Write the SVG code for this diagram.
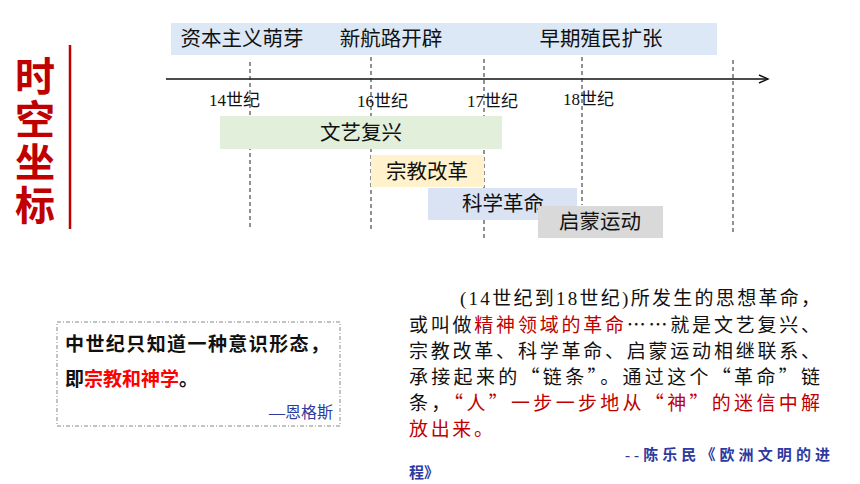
<svg xmlns="http://www.w3.org/2000/svg" width="860" height="484" viewBox="0 0 860 484">
<defs>
<style>
.song{font-family:"Liberation Serif","Noto Sans CJK SC",serif;fill:#111}
.cjk{font-family:"Noto Sans CJK SC",sans-serif;fill:#111}
.band{font-size:20.5px}
.cent{font-size:17px}
.dash{stroke:#222;stroke-width:1;stroke-dasharray:4,3;fill:none}
.red{fill:#c00000}
.bred{fill:#ff0000}
.blue{fill:#2e3a9e}
</style>
<marker id="arr" markerWidth="12" markerHeight="10" refX="10" refY="5" orient="auto" markerUnits="userSpaceOnUse">
<path d="M1,1 L10,5 L1,9" fill="none" stroke="#111" stroke-width="1.4"/>
</marker>
</defs>
<rect width="860" height="484" fill="#fff"/>

<g id="title">
<text x="35" y="56" writing-mode="tb" font-family="Noto Sans CJK SC,sans-serif" font-size="40" font-weight="bold" letter-spacing="3" fill="#c00000">时空坐标</text>
<line x1="70" y1="45" x2="70" y2="229" stroke="#c00000" stroke-width="2.5"/>
</g>

<g id="band-capitalism">
<rect x="171" y="23" width="159" height="32" fill="#dce8f5"/>
<text class="song band" x="242" y="46" text-anchor="middle">资本主义萌芽</text>
</g>
<g id="band-route">
<rect x="330" y="23" width="155" height="32" fill="#dce8f5"/>
<text class="song band" x="391" y="46" text-anchor="middle">新航路开辟</text>
</g>
<g id="band-colony">
<rect x="485" y="23" width="232" height="32" fill="#dce8f5"/>
<text class="song band" x="601" y="46" text-anchor="middle">早期殖民扩张</text>
</g>

<g id="connectors">
<line x1="166" y1="79" x2="768" y2="79" stroke="#111" stroke-width="1.3" marker-end="url(#arr)"/>
<line class="dash" x1="250" y1="62" x2="250" y2="229"/>
<line class="dash" x1="371" y1="57" x2="371" y2="229"/>
<line class="dash" x1="484" y1="59" x2="484" y2="240"/>
<line class="dash" x1="582" y1="57" x2="582" y2="205"/>
<line class="dash" x1="733" y1="60" x2="733" y2="233"/>
</g>

<g id="labels-centuries">
<text class="song cent" x="209" y="106">14世纪</text>
<text class="song cent" x="357" y="107">16世纪</text>
<text class="song cent" x="467" y="107">17世纪</text>
<text class="song cent" x="563" y="105">18世纪</text>
</g>

<g id="renaissance">
<rect x="220" y="116" width="282" height="33" fill="#e2efda"/>
<text class="song band" x="361" y="140" text-anchor="middle">文艺复兴</text>
</g>
<g id="reformation">
<rect x="371" y="155" width="113" height="32" fill="#fff2cc"/>
<text class="song band" x="427" y="179" text-anchor="middle">宗教改革</text>
</g>
<g id="science">
<rect x="428" y="188" width="149" height="32" fill="#dae3f3"/>
<text class="song band" x="503" y="211" text-anchor="middle">科学革命</text>
</g>
<g id="enlightenment">
<rect x="538" y="206" width="125" height="32" fill="#d9d9d9"/>
<text class="song band" x="600" y="229" text-anchor="middle">启蒙运动</text>
</g>

<g id="quote-engels">
<rect x="57" y="322" width="283" height="104" fill="none" stroke="#888" stroke-width="1" stroke-dasharray="4,2,1,2"/>
<text font-family="Noto Sans CJK SC,sans-serif" font-size="19" font-weight="bold" fill="#111"><tspan x="65" y="351" textLength="264" lengthAdjust="spacing">中世纪只知道一种意识形态，</tspan><tspan x="65" y="386">即<tspan class="bred">宗教和神学</tspan>。</tspan></text>
<text class="blue" x="333" y="418" font-family="Liberation Serif,Noto Sans CJK SC,serif" font-size="16" text-anchor="end">—恩格斯</text>
</g>

<g id="quote-chen">
<text class="song" font-size="19" textLength="360" lengthAdjust="spacing" x="460" y="305">(14世纪到18世纪)所发生的思想革命，</text>
<text class="cjk" font-size="19">
<tspan x="409" y="332" textLength="411" lengthAdjust="spacing">或叫做<tspan class="red">精神领域的革命</tspan>……就是文艺复兴、</tspan>
<tspan x="409" y="358" textLength="411" lengthAdjust="spacing">宗教改革、科学革命、启蒙运动相继联系、</tspan>
<tspan x="409" y="384" textLength="411" lengthAdjust="spacing">承接起来的“链条”。通过这个“革命”链</tspan>
<tspan x="409" y="410" textLength="411" lengthAdjust="spacing">条，<tspan class="red">“人”一步一步地从“神”的迷信中解</tspan></tspan>
<tspan x="409" y="436" class="red" textLength="84" lengthAdjust="spacing">放出来。</tspan>
</text>
<text class="blue" font-family="Liberation Serif,Noto Sans CJK SC,serif" font-size="15" font-weight="bold"><tspan x="625" y="460" textLength="205" lengthAdjust="spacing">--陈乐民《欧洲文明的进</tspan><tspan x="409" y="478">程》</tspan></text>
</g>
</svg>
